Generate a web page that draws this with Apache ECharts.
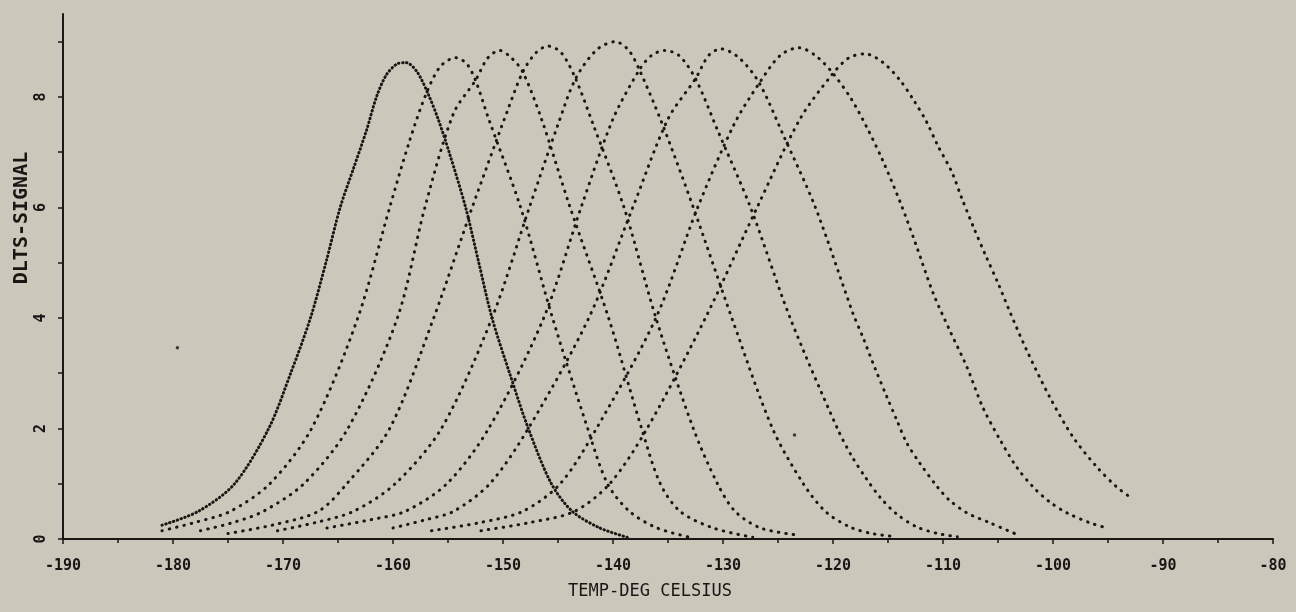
<!DOCTYPE html>
<html>
<head>
<meta charset="utf-8">
<script src="https://cdn.jsdelivr.net/npm/echarts@6/dist/echarts.min.js"></script>
<style>
  html, body { margin: 0; padding: 0; background: #cbc8bb; }
  #chart { width: 1296px; height: 612px; }
</style>
</head>
<body>
<div id="chart"></div>
<script>
// DLTS peaks, one array per rate window: [temperature (deg C), signal]
const curve1 = [[-181.0,0.25],[-177.7,0.5],[-174.4,1.0],[-171.3,2.0],[-169.3,3.0],[-167.5,4.0],[-166.1,5.0],[-164.8,6.0],[-163.6,6.7],[-162.4,7.4],[-161.5,8.0],[-160.6,8.4],[-159.6,8.6],[-158.8,8.62],[-157.8,8.45],[-156.8,8.05],[-155.9,7.6],[-154.9,7.0],[-153.4,6.0],[-152.2,5.0],[-151.0,4.0],[-149.4,3.0],[-147.7,2.0],[-145.6,1.0],[-143.7,0.5],[-141.2,0.2],[-138.7,0.03]];
const curve2 = [[-181.0,0.15],[-178.0,0.3],[-174.8,0.5],[-171.2,1.0],[-167.4,2.0],[-163.2,4.0],[-160.3,6.0],[-158.5,7.2],[-157.0,8.05],[-155.7,8.55],[-154.3,8.71],[-153.3,8.6],[-152.5,8.3],[-151.3,7.6],[-148.4,6.0],[-145.5,4.0],[-142.3,2.0],[-140.5,1.0],[-138.5,0.5],[-136.0,0.2],[-133.0,0.03]];
const curve3 = [[-177.5,0.15],[-174.5,0.3],[-171.8,0.5],[-168.1,1.0],[-164.1,2.0],[-159.6,4.0],[-157.1,6.0],[-154.5,7.7],[-152.5,8.3],[-151.4,8.7],[-150.3,8.84],[-149.2,8.7],[-148.2,8.45],[-146.5,7.6],[-143.9,6.0],[-140.4,4.0],[-137.4,2.0],[-135.7,1.0],[-133.9,0.5],[-130.9,0.2],[-127.3,0.03]];
const curve4 = [[-175.0,0.1],[-171.0,0.25],[-166.8,0.5],[-164.2,1.0],[-160.3,2.0],[-156.3,4.0],[-152.8,6.0],[-149.5,7.8],[-148.2,8.45],[-147.0,8.8],[-145.9,8.92],[-144.7,8.8],[-143.4,8.33],[-141.8,7.5],[-139.0,6.0],[-136.1,4.0],[-132.7,2.0],[-130.5,1.0],[-128.9,0.5],[-126.6,0.2],[-123.2,0.07]];
const curve5 = [[-170.5,0.15],[-167.0,0.3],[-163.6,0.5],[-159.8,1.0],[-155.6,2.0],[-151.0,4.0],[-147.6,6.0],[-145.0,7.5],[-143.4,8.33],[-141.5,8.85],[-139.8,9.0],[-138.6,8.85],[-137.6,8.49],[-135.5,7.5],[-132.7,6.0],[-129.2,4.0],[-125.5,2.0],[-122.7,1.0],[-120.7,0.5],[-118.5,0.22],[-116.5,0.1],[-114.2,0.04]];
const curve6 = [[-166.0,0.2],[-162.0,0.35],[-158.9,0.5],[-155.1,1.0],[-151.3,2.0],[-146.3,4.0],[-142.9,6.0],[-140.0,7.6],[-137.6,8.49],[-136.5,8.75],[-135.3,8.84],[-134.0,8.75],[-132.5,8.33],[-130.5,7.4],[-127.5,6.0],[-123.9,4.0],[-119.6,2.0],[-118.3,1.5],[-117.0,1.1],[-115.7,0.75],[-114.2,0.45],[-112.4,0.22],[-110.5,0.1],[-108.7,0.04]];
const curve7 = [[-160.0,0.2],[-157.0,0.35],[-154.5,0.5],[-151.2,1.0],[-147.7,2.0],[-142.2,4.0],[-138.2,6.0],[-135.0,7.6],[-132.5,8.33],[-131.3,8.75],[-130.2,8.87],[-128.5,8.7],[-126.7,8.25],[-124.5,7.3],[-121.6,6.0],[-118.2,4.09],[-117.3,3.66],[-116.2,3.1],[-115.1,2.57],[-114.2,2.15],[-113.3,1.74],[-112.1,1.37],[-110.5,0.94],[-109.4,0.7],[-107.8,0.47],[-105.7,0.29],[-103.5,0.1]];
const curve8 = [[-156.5,0.15],[-152.0,0.3],[-148.2,0.5],[-144.8,1.0],[-141.5,2.0],[-136.1,4.0],[-132.3,6.0],[-129.0,7.5],[-126.7,8.25],[-124.8,8.75],[-123.1,8.89],[-121.6,8.75],[-120.1,8.45],[-118.3,7.95],[-116.8,7.4],[-115.5,6.86],[-113.9,6.1],[-112.5,5.35],[-110.9,4.45],[-109.4,3.78],[-107.8,3.1],[-106.4,2.39],[-104.8,1.79],[-103.3,1.3],[-101.8,0.94],[-100.3,0.67],[-98.7,0.47],[-96.6,0.29],[-95.1,0.2]];
const curve9 = [[-152.0,0.15],[-147.5,0.3],[-143.5,0.5],[-140.3,1.0],[-136.9,2.0],[-131.6,4.0],[-126.9,6.0],[-123.0,7.6],[-120.1,8.4],[-118.6,8.7],[-117.1,8.78],[-115.5,8.63],[-113.9,8.3],[-112.7,7.95],[-111.5,7.55],[-110.5,7.13],[-109.2,6.64],[-108.3,6.17],[-107.2,5.63],[-106.1,5.12],[-105.0,4.63],[-103.9,4.1],[-102.4,3.42],[-100.3,2.57],[-98.2,1.85],[-96.0,1.3],[-94.2,0.94],[-93.0,0.76]];
// stray plotter dots
const strayDots = [[-179.6,3.46],[-123.5,1.88]];

const curves = [curve1, curve2, curve3, curve4, curve5, curve6, curve7, curve8, curve9];
const yTicks = [0,1,2,3,4,5,6,7,8,9];
const yLabels = [0,2,4,6,8];

const ink = '#1c1515';
const mono = '"DejaVu Sans Mono", "Liberation Mono", monospace';

const chart = echarts.init(document.getElementById('chart'));

const series = curves.map((c, i) => ({
  type: 'line',
  data: c,
  smooth: 0.3,
  showSymbol: false,
  silent: true,
  lineStyle: {
    color: ink,
    width: 3,
    cap: 'round',
    type: i === 0 ? [0.5, 3.5] : [0.5, 7]
  }
}));
series.push({
  type: 'scatter',
  data: strayDots,
  symbolSize: 3.5,
  silent: true,
  itemStyle: {color: ink}
});

chart.setOption({
  animation: false,
  backgroundColor: '#cbc8bb',
  grid: {left: 63, right: 23, top: 14, bottom: 73, outerBoundsMode: 'none'},
  xAxis: {
    type: 'value',
    min: -190,
    max: -80,
    interval: 10,
    name: 'TEMP-DEG CELSIUS',
    nameLocation: 'middle',
    nameGap: 44,
    nameTextStyle: {color: ink, fontFamily: mono, fontSize: 17, padding: [0, 36, 0, 0]},
    axisLine: {onZero: false, lineStyle: {color: ink, width: 2}},
    axisTick: {length: 5, lineStyle: {color: ink, width: 1.5}},
    minorTick: {show: true, splitNumber: 2, length: 4, lineStyle: {color: ink, width: 1.5}},
    axisLabel: {color: ink, fontFamily: mono, fontSize: 15, fontWeight: 'bold', margin: 20},
    splitLine: {show: false}
  },
  yAxis: {
    type: 'value',
    min: 0,
    max: 9.5,
    axisLine: {show: true, onZero: false, lineStyle: {color: ink, width: 2}},
    axisTick: {show: true, customValues: yTicks, length: 5, lineStyle: {color: ink, width: 1.5}},
    axisLabel: {customValues: yLabels, rotate: 90, color: ink, fontFamily: mono, fontSize: 15, fontWeight: 'bold', margin: 14},
    splitLine: {show: false}
  },
  graphic: [{
    type: 'text',
    x: 22,
    y: 218,
    rotation: Math.PI / 2,
    style: {
      text: 'DLTS-SIGNAL',
      fill: ink,
      font: 'bold 20px ' + mono,
      align: 'center',
      verticalAlign: 'middle'
    }
  }],
  series: series
});
</script>
</body>
</html>
